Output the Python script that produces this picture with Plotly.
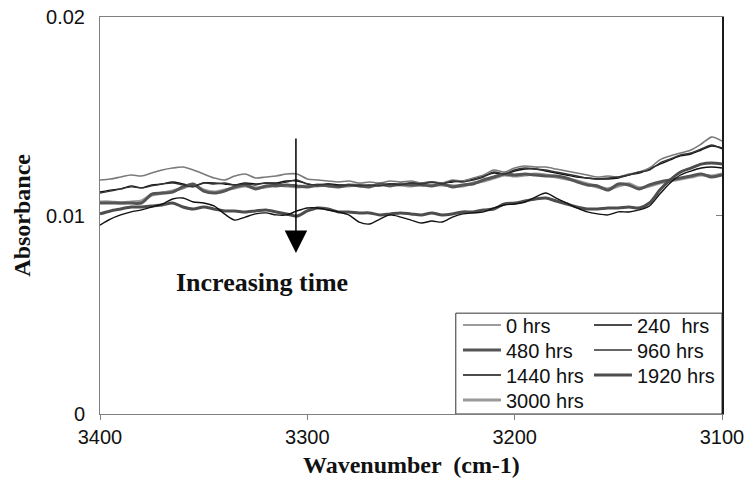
import plotly.graph_objects as go

# Wavenumber grid (cm-1), sampled every 5 cm-1 from 3400 down to 3100
wavenumber = list(range(3400, 3099, -5))

abs_0 = [0.01179, 0.01184, 0.01194, 0.01204, 0.01199, 0.01214, 0.01229, 0.01239, 0.01244, 0.01229,
         0.01209, 0.01189, 0.01179, 0.01199, 0.01209, 0.01189, 0.01194, 0.01199, 0.01209, 0.01209,
         0.01184, 0.01179, 0.01174, 0.01169, 0.01174, 0.01164, 0.01169, 0.01164, 0.01174, 0.01169,
         0.01174, 0.01164, 0.01169, 0.01164, 0.01179, 0.01174, 0.01189, 0.01204, 0.01229, 0.01219,
         0.01239, 0.01249, 0.01244, 0.01244, 0.01234, 0.01224, 0.01214, 0.01204, 0.01194, 0.01199,
         0.01194, 0.01209, 0.01219, 0.01239, 0.01280, 0.01300, 0.01315, 0.01330, 0.01360, 0.01395,
         0.01375]

abs_240 = [0.01118, 0.01128, 0.01134, 0.01149, 0.01139, 0.01154, 0.01159, 0.01169, 0.01159, 0.01149,
           0.01164, 0.01164, 0.01159, 0.01154, 0.01164, 0.01159, 0.01164, 0.01164, 0.01174, 0.01174,
           0.01159, 0.01149, 0.01159, 0.01154, 0.01154, 0.01154, 0.01149, 0.01154, 0.01159, 0.01159,
           0.01164, 0.01164, 0.01169, 0.01164, 0.01169, 0.01174, 0.01184, 0.01199, 0.01214, 0.01209,
           0.01224, 0.01234, 0.01234, 0.01224, 0.01214, 0.01204, 0.01194, 0.01189, 0.01184, 0.01184,
           0.01189, 0.01204, 0.01214, 0.01234, 0.01259, 0.01280, 0.01300, 0.01310, 0.01330, 0.01350,
           0.01340]

abs_480 = [0.01063, 0.01063, 0.01063, 0.01063, 0.01063, 0.01108, 0.01113, 0.01118, 0.01144, 0.01159,
           0.01123, 0.01113, 0.01123, 0.01144, 0.01154, 0.01134, 0.01149, 0.01149, 0.01154, 0.01149,
           0.01144, 0.01154, 0.01149, 0.01144, 0.01154, 0.01149, 0.01144, 0.01159, 0.01149, 0.01159,
           0.01154, 0.01154, 0.01149, 0.01159, 0.01144, 0.01154, 0.01159, 0.01179, 0.01194, 0.01209,
           0.01204, 0.01209, 0.01204, 0.01199, 0.01199, 0.01189, 0.01169, 0.01154, 0.01149, 0.01128,
           0.01159, 0.01154, 0.01134, 0.01154, 0.01169, 0.01179, 0.01189, 0.01199, 0.01209, 0.01194,
           0.01204]

abs_960 = [0.01113, 0.01123, 0.01134, 0.01144, 0.01139, 0.01149, 0.01159, 0.01164, 0.01154, 0.01144,
           0.01164, 0.01159, 0.01164, 0.01154, 0.01159, 0.01154, 0.01164, 0.01159, 0.01169, 0.01179,
           0.01159, 0.01154, 0.01159, 0.01149, 0.01154, 0.01149, 0.01154, 0.01149, 0.01159, 0.01154,
           0.01164, 0.01159, 0.01169, 0.01159, 0.01174, 0.01169, 0.01179, 0.01194, 0.01219, 0.01209,
           0.01229, 0.01239, 0.01234, 0.01229, 0.01219, 0.01209, 0.01199, 0.01189, 0.01184, 0.01189,
           0.01194, 0.01204, 0.01219, 0.01229, 0.01264, 0.01285, 0.01305, 0.01315, 0.01335, 0.01355,
           0.01335]

abs_1440 = [0.00952, 0.00982, 0.01003, 0.01018, 0.01028, 0.01043, 0.01058, 0.01083, 0.01088, 0.01068,
            0.01063, 0.01048, 0.01008, 0.00977, 0.00992, 0.01008, 0.01013, 0.01003, 0.01003, 0.01023,
            0.01038, 0.01038, 0.01028, 0.01018, 0.01003, 0.00967, 0.00957, 0.00982, 0.01003, 0.00992,
            0.00977, 0.00962, 0.00972, 0.00967, 0.00992, 0.01008, 0.01013, 0.01018, 0.01038, 0.01053,
            0.01058, 0.01068, 0.01093, 0.01113, 0.01088, 0.01063, 0.01038, 0.01018, 0.01008, 0.01003,
            0.01018, 0.01018, 0.01028, 0.01048, 0.01108, 0.01164, 0.01204, 0.01224, 0.01239, 0.01244,
            0.01239]

abs_1920 = [0.01008, 0.01023, 0.01033, 0.01043, 0.01043, 0.01048, 0.01053, 0.01063, 0.01043, 0.01033,
            0.01043, 0.01033, 0.01023, 0.01023, 0.01018, 0.01023, 0.01028, 0.01018, 0.01008, 0.00997,
            0.01023, 0.01038, 0.01033, 0.01018, 0.01018, 0.01013, 0.01013, 0.01003, 0.01008, 0.01013,
            0.01008, 0.01003, 0.01013, 0.01003, 0.01008, 0.01018, 0.01018, 0.01028, 0.01033, 0.01058,
            0.01063, 0.01073, 0.01083, 0.01088, 0.01073, 0.01058, 0.01043, 0.01033, 0.01033, 0.01038,
            0.01038, 0.01043, 0.01038, 0.01063, 0.01128, 0.01179, 0.01219, 0.01239, 0.01259, 0.01264,
            0.01259]

abs_3000 = [0.01068, 0.01068, 0.01063, 0.01068, 0.01073, 0.01103, 0.01113, 0.01123, 0.01139, 0.01154,
            0.01128, 0.01118, 0.01128, 0.01139, 0.01149, 0.01139, 0.01144, 0.01154, 0.01149, 0.01144,
            0.01149, 0.01149, 0.01154, 0.01149, 0.01149, 0.01154, 0.01149, 0.01154, 0.01154, 0.01154,
            0.01149, 0.01159, 0.01154, 0.01154, 0.01149, 0.01149, 0.01164, 0.01174, 0.01189, 0.01204,
            0.01199, 0.01204, 0.01209, 0.01204, 0.01194, 0.01184, 0.01174, 0.01159, 0.01144, 0.01134,
            0.01149, 0.01159, 0.01139, 0.01149, 0.01164, 0.01174, 0.01184, 0.01194, 0.01204, 0.01199,
            0.01209]

# (name, values, colour, width, legend row, position in row), listed in drawing order
series = [
    ("3000 hrs", abs_3000, "#9a9a9a", 3.2, "legend4", 1),
    ("240  hrs", abs_240, "#111111", 1.4, "legend", 2),
    ("0 hrs", abs_0, "#7a7a7a", 1.6, "legend", 1),
    ("480 hrs", abs_480, "#555555", 3.0, "legend2", 1),
    ("960 hrs", abs_960, "#333333", 1.4, "legend2", 2),
    ("1920 hrs", abs_1920, "#4d4d4d", 3.0, "legend3", 2),
    ("1440 hrs", abs_1440, "#111111", 1.4, "legend3", 1),
]

SANS = "Liberation Sans, Arial, sans-serif"
SERIF = "Liberation Serif, Times New Roman, serif"

fig = go.Figure()
for name, vals, color, width, leg, rank in series:
    fig.add_trace(go.Scatter(
        x=wavenumber, y=vals, name=name, mode="lines",
        line=dict(color=color, width=width, shape="spline", smoothing=0.8),
        legend=leg, legendrank=rank,
    ))

# Right-hand frame edge with its single inward tick at 0.01
fig.add_trace(go.Scatter(x=[3400], y=[0.0], yaxis="y2", mode="lines",
                         showlegend=False, hoverinfo="skip", line=dict(width=0)))

# Legend: one horizontal legend per row, two columns
legend_style = dict(font=dict(family=SANS, size=20, color="#111111"),
                    bgcolor="rgba(0,0,0,0)", borderwidth=0, orientation="h",
                    entrywidth=78, itemwidth=38,
                    xanchor="left", yanchor="middle", x=0.5755)
row_y = [0.2242, 0.1612, 0.0982, 0.0353]

fig.update_layout(
    width=747, height=499,
    margin=dict(l=100, r=25, t=17, b=85, autoexpand=False),
    paper_bgcolor="white", plot_bgcolor="white",
    xaxis=dict(range=[3400, 3100], tickvals=[3400, 3300, 3200, 3100],
               ticks="outside", ticklen=5, tickcolor="#808080",
               showline=True, linecolor="#808080", linewidth=1, mirror=True,
               showgrid=False, zeroline=False,
               tickfont=dict(family=SANS, size=20, color="#111111")),
    yaxis=dict(range=[0, 0.02], tickvals=[0, 0.01, 0.02], ticktext=["0", "0.01", "0.02"],
               ticks="", showline=True, linecolor="#808080", linewidth=1,
               showgrid=False, zeroline=False, ticklabelstandoff=10,
               tickfont=dict(family=SANS, size=20, color="#111111")),
    yaxis2=dict(range=[0, 0.02], overlaying="y", side="right", tickvals=[0.01],
                ticks="inside", ticklen=6, tickcolor="#808080", showticklabels=False,
                showline=True, linecolor="#1a1a1a", linewidth=2,
                showgrid=False, zeroline=False),
    legend=dict(y=row_y[0], **legend_style),
    legend2=dict(y=row_y[1], **legend_style),
    legend3=dict(y=row_y[2], **legend_style),
    legend4=dict(y=row_y[3], **legend_style),
    showlegend=True,
    shapes=[dict(type="rect", xref="paper", yref="paper", x0=0.572, x1=1.0, y0=0.0, y1=0.254,
                 line=dict(color="#333333", width=1), fillcolor="white", layer="below")],
    annotations=[
        dict(text="<b>Absorbance</b>", xref="paper", yref="paper", x=-0.1267, y=0.5,
             xanchor="center", yanchor="middle", textangle=-90, showarrow=False,
             font=dict(family=SERIF, size=24, color="#111111")),
        dict(text="<b>Wavenumber  (cm-1)</b>", xref="paper", yref="paper", x=0.5, y=-0.128,
             xanchor="center", yanchor="middle", showarrow=False,
             font=dict(family=SERIF, size=24, color="#111111")),
        dict(text="<b>Increasing time</b>", x=3321.8, y=0.00665, xref="x", yref="y",
             xanchor="center", yanchor="middle", showarrow=False,
             font=dict(family=SERIF, size=26, color="#111111")),
        dict(text="", x=3305.5, y=0.00811, ax=3305.5, ay=0.01395, xref="x", yref="y",
             axref="x", ayref="y", showarrow=True, arrowhead=2, arrowsize=3,
             arrowwidth=1.5, arrowcolor="#000000", standoff=0),
    ],
)

fig.write_html("out.html")
